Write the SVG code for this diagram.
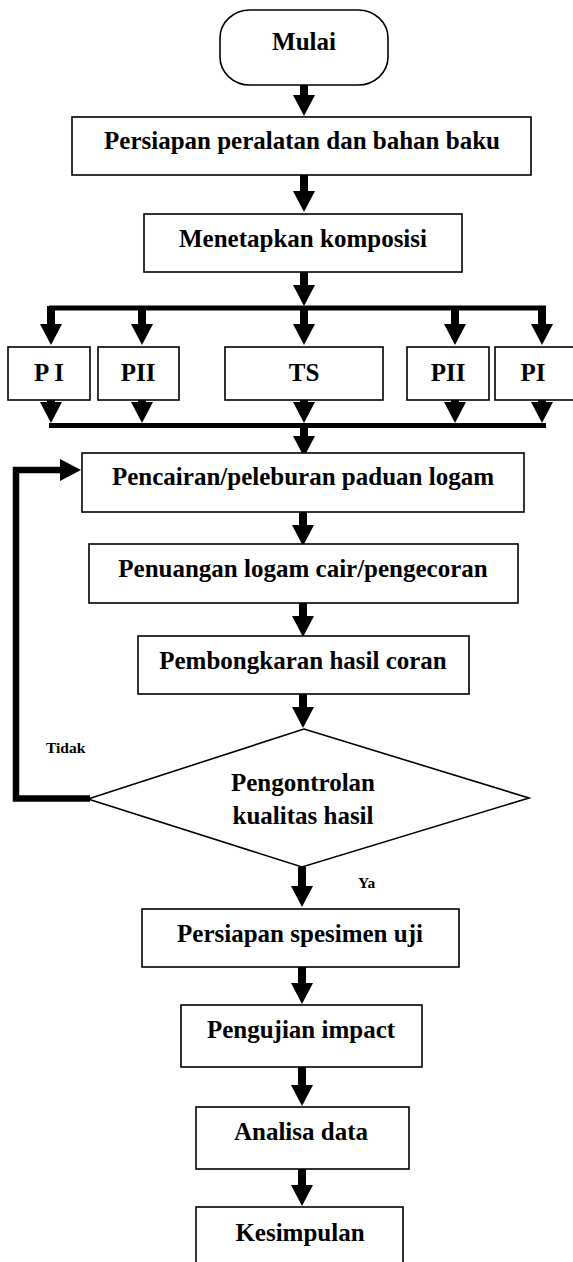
<svg xmlns="http://www.w3.org/2000/svg" width="573" height="1262" viewBox="0 0 573 1262">
<style>
.box{fill:#fff;stroke:#000;stroke-width:1.6}
.t{font-family:"Liberation Serif","Times New Roman",serif;font-weight:bold;font-size:25px;fill:#000;text-anchor:middle}
.lbl{font-family:"Liberation Serif","Times New Roman",serif;font-weight:bold;font-size:15.5px;fill:#000}
.c{fill:none;stroke:#000;stroke-width:8}
.bar{fill:none;stroke:#000;stroke-width:5}
.loop{fill:none;stroke:#000;stroke-width:6.5;stroke-linejoin:miter}
</style>
<defs>
<marker id="ah" markerUnits="userSpaceOnUse" markerWidth="24" markerHeight="24" viewBox="0 -12 24 24" refX="1" refY="0" orient="auto">
<path d="M0,-11 L21,0 L0,11 Z" fill="#000"/>
</marker>
</defs>
<rect width="573" height="1262" fill="#fff"/>
<g id="connectors">
<path class="c" d="M304,85 V96" marker-end="url(#ah)"/>
<path class="c" d="M304,175 V192" marker-end="url(#ah)"/>
<path class="c" d="M304,272 V286" marker-end="url(#ah)"/>
<path class="bar" d="M49,308 H546"/>
<path class="c" d="M51,306 V325" marker-end="url(#ah)"/>
<path class="c" d="M142,306 V325" marker-end="url(#ah)"/>
<path class="c" d="M304,306 V325" marker-end="url(#ah)"/>
<path class="c" d="M455,306 V325" marker-end="url(#ah)"/>
<path class="c" d="M542,306 V325" marker-end="url(#ah)"/>
<path class="c" d="M51,400 V403" marker-end="url(#ah)"/>
<path class="c" d="M142,400 V403" marker-end="url(#ah)"/>
<path class="c" d="M304,400 V403" marker-end="url(#ah)"/>
<path class="c" d="M455,400 V403" marker-end="url(#ah)"/>
<path class="c" d="M542,400 V403" marker-end="url(#ah)"/>
<path class="bar" d="M49,425.5 H546"/>
<path class="c" d="M304,425 V437" marker-end="url(#ah)"/>
<path class="c" d="M303,512 V526" marker-end="url(#ah)"/>
<path class="c" d="M303,603 V617" marker-end="url(#ah)"/>
<path class="c" d="M303,694 V708" marker-end="url(#ah)"/>
<path class="loop" d="M90,798.5 H16 V470 H61" marker-end="url(#ah)"/>
<path class="c" d="M302,867 V887" marker-end="url(#ah)"/>
<path class="c" d="M302,967 V984" marker-end="url(#ah)"/>
<path class="c" d="M302,1067 V1086" marker-end="url(#ah)"/>
<path class="c" d="M302,1169 V1186" marker-end="url(#ah)"/>
</g>
<g id="mulai"><rect class="box" x="220" y="10" width="168" height="75" rx="30" ry="28"/><text class="t" x="304" y="50">Mulai</text></g>
<g id="persiapan"><rect class="box" x="72" y="117" width="459" height="58"/><text class="t" x="302" y="149">Persiapan peralatan dan bahan baku</text></g>
<g id="menetapkan"><rect class="box" x="144" y="214" width="318" height="58"/><text class="t" x="303" y="247">Menetapkan komposisi</text></g>
<g id="pi1"><rect class="box" x="8" y="347" width="82" height="53"/><text class="t" x="49" y="381">P I</text></g>
<g id="pii1"><rect class="box" x="98" y="347" width="81" height="53"/><text class="t" x="138" y="381">PII</text></g>
<g id="ts"><rect class="box" x="225" y="347" width="158" height="53"/><text class="t" x="304" y="381">TS</text></g>
<g id="pii2"><rect class="box" x="407" y="347" width="82" height="53"/><text class="t" x="448" y="381">PII</text></g>
<g id="pi2"><rect class="box" x="495" y="347" width="82" height="53"/><text class="t" x="533" y="381">PI</text></g>
<g id="pencairan"><rect class="box" x="82" y="453" width="442" height="59"/><text class="t" x="303" y="485">Pencairan/peleburan paduan logam</text></g>
<g id="penuangan"><rect class="box" x="89" y="544" width="429" height="59"/><text class="t" x="303" y="577">Penuangan logam cair/pengecoran</text></g>
<g id="pembongkaran"><rect class="box" x="138" y="636" width="331" height="58"/><text class="t" x="303" y="669">Pembongkaran hasil coran</text></g>
<g id="pengontrolan"><polygon class="box" points="304,729 529,798 302,867 88,799"/><text class="t" x="303" y="791">Pengontrolan</text><text class="t" x="303" y="824">kualitas hasil</text></g>
<g id="labels"><text class="lbl" x="46" y="753">Tidak</text><text class="lbl" x="358" y="888">Ya</text></g>
<g id="spesimen"><rect class="box" x="142" y="909" width="317" height="58"/><text class="t" x="300" y="942">Persiapan spesimen uji</text></g>
<g id="pengujian"><rect class="box" x="181" y="1005" width="241" height="62"/><text class="t" x="301" y="1038">Pengujian impact</text></g>
<g id="analisa"><rect class="box" x="196" y="1107" width="213" height="62"/><text class="t" x="301" y="1140">Analisa data</text></g>
<g id="kesimpulan"><rect class="box" x="196" y="1207" width="207" height="60"/><text class="t" x="300" y="1241">Kesimpulan</text></g>
</svg>
